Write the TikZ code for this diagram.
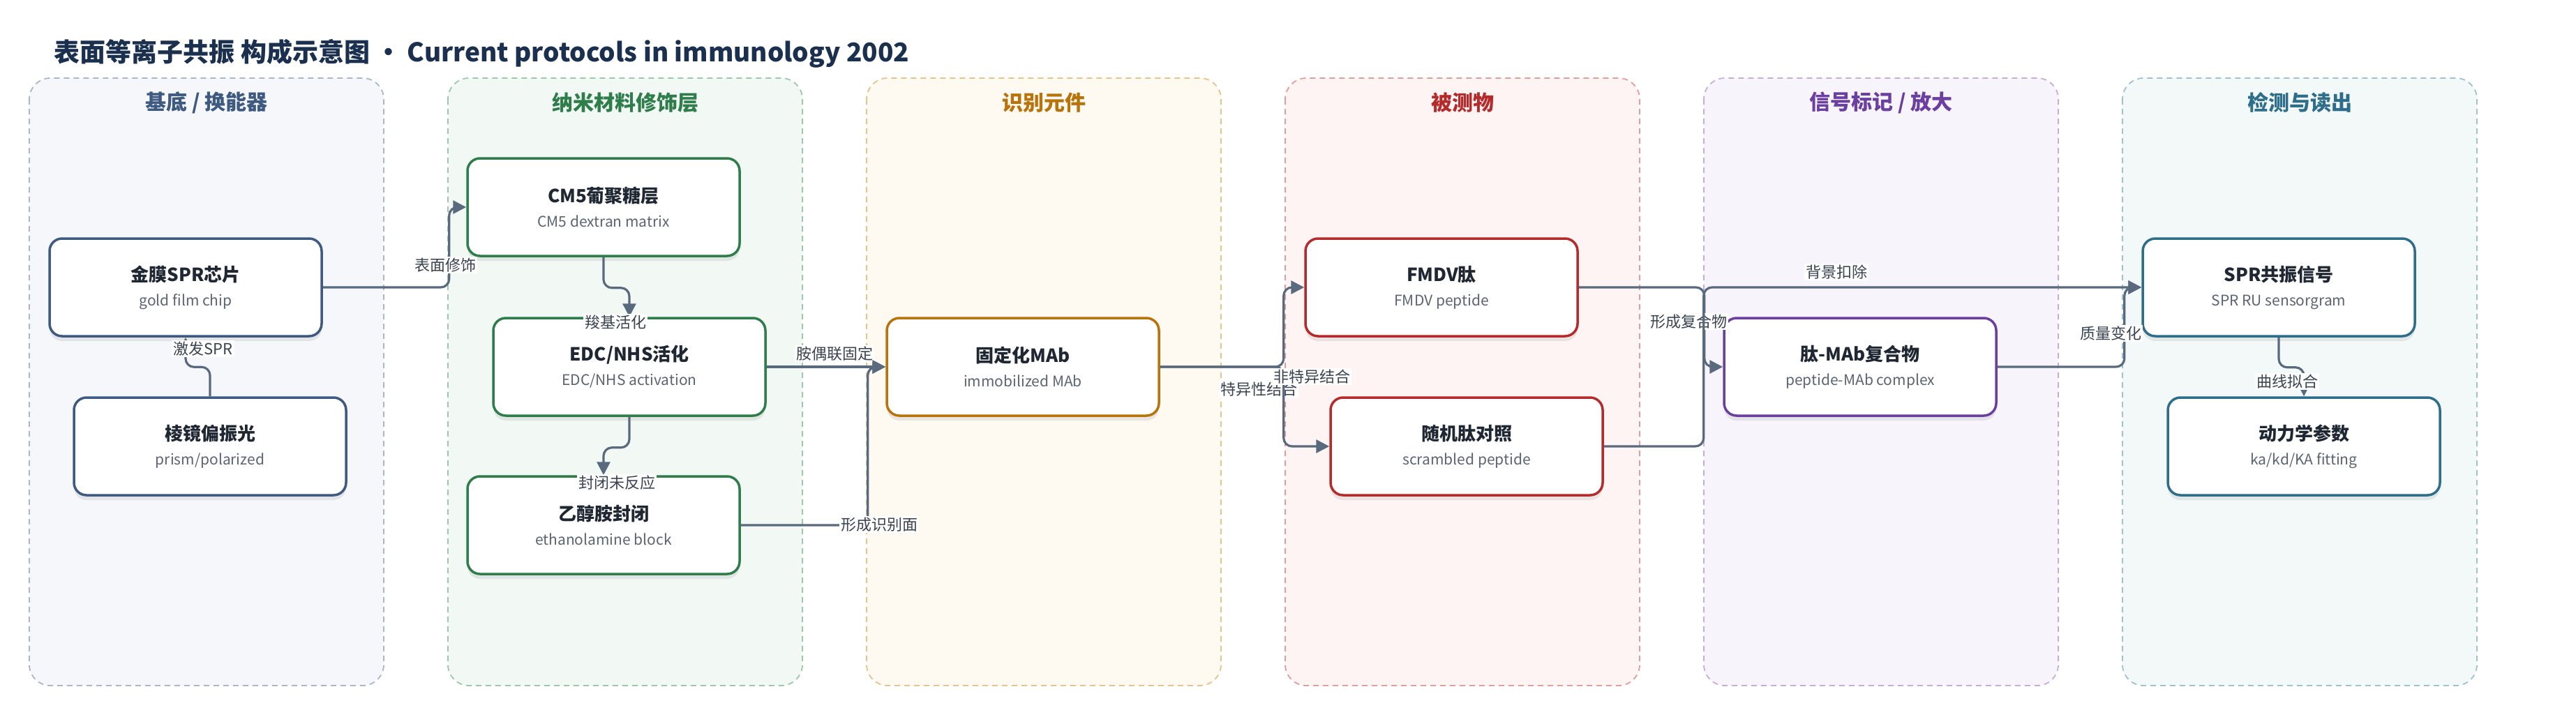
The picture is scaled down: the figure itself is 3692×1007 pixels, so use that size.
\documentclass[tikz,border=0pt]{standalone}
\usepackage{fontspec}
\setmainfont{Noto Sans CJK SC}
\usepackage{tikz}
\usetikzlibrary{arrows.meta,positioning,shadows}

\definecolor{titlec}{HTML}{1B2F4E}
\definecolor{inkc}{HTML}{1F2733}
\definecolor{subc}{HTML}{5B6472}
\definecolor{labc}{HTML}{3A4350}
\definecolor{linec}{HTML}{5A6A7E}
% lane colours: text / dashes / fill
\definecolor{baseC}{HTML}{3E5A80}\definecolor{baseD}{HTML}{A9B7CB}\definecolor{baseF}{HTML}{F5F7FB}
\definecolor{nanoC}{HTML}{2E7D4B}\definecolor{nanoD}{HTML}{9CC9A9}\definecolor{nanoF}{HTML}{F2F8F4}
\definecolor{recC}{HTML}{B8730A}\definecolor{recD}{HTML}{E6C48C}\definecolor{recF}{HTML}{FEF9F1}
\definecolor{anaC}{HTML}{B52A2A}\definecolor{anaD}{HTML}{E49C9C}\definecolor{anaF}{HTML}{FEF4F4}
\definecolor{sigC}{HTML}{6A3FA0}\definecolor{sigD}{HTML}{C9ACDE}\definecolor{sigF}{HTML}{F8F4FC}
\definecolor{detC}{HTML}{2E6E8A}\definecolor{detD}{HTML}{A0C2CD}\definecolor{detF}{HTML}{F3F8F9}

\newcommand{\engtxt}{\mdseries\fontsize{21}{35}\selectfont\color{subc}}

\begin{document}
\begin{tikzpicture}[
		x=1pt, y=-1pt,
		lane/.style 2 args={draw=#1, fill=#2, line width=1.8pt, dash pattern=on 8pt off 6pt, rounded corners=30pt},
		hdr/.style={text=#1, font=\fontsize{30}{30}\selectfont\bfseries},
		box/.style={draw=#1, fill=white, line width=3.5pt, rounded corners=18pt,
			minimum width=390pt, minimum height=140pt, align=center, text=inkc,
			font=\fontsize{26}{35}\selectfont\bfseries,
			drop shadow={shadow xshift=0pt, shadow yshift=-7pt, fill=black!60, opacity=0.13}},
		lbl/.style={fill=white, inner sep=2pt, text=labc, font=\fontsize{22}{22}\selectfont},
		flow/.style={draw=linec, line width=3.2pt, rounded corners=12pt, -{Triangle[length=19pt,width=19pt]}}
		]
	\useasboundingbox (0,0) rectangle (3692,1007);

	\node[anchor=west, text=titlec, font=\fontsize{37}{37}\selectfont\bfseries] (title) at (74,77)
		{表面等离子共振 构成示意图 · Current protocols in immunology 2002};

	% lanes
	\draw[lane={baseD}{baseF}] (42,112) rectangle (550,983);
	\draw[lane={nanoD}{nanoF}] (642,112) rectangle (1150,983);
	\draw[lane={recD}{recF}] (1242,112) rectangle (1750,983);
	\draw[lane={anaD}{anaF}] (1842,112) rectangle (2350,983);
	\draw[lane={sigD}{sigF}] (2442,112) rectangle (2950,983);
	\draw[lane={detD}{detF}] (3042,112) rectangle (3550,983);

	\node[hdr=baseC] (hbase) at (296,147) {基底 / 换能器};
	\node[hdr=nanoC] (hnano) at (896,147) {纳米材料修饰层};
	\node[hdr=recC] (hrec) at (1496,147) {识别元件};
	\node[hdr=anaC] (hana) at (2096,147) {被测物};
	\node[hdr=sigC] (hsig) at (2696,147) {信号标记 / 放大};
	\node[hdr=detC] (hdet) at (3296,147) {检测与读出};

	% nodes
	\node[box=baseC] (chip) at (266,412) {金膜SPR芯片\\{\engtxt gold film chip}};
	\node[box=baseC] (prism) at (301,640) {棱镜偏振光\\{\engtxt prism/polarized}};
	\node[box=nanoC] (cm5) at (865,297) {CM5葡聚糖层\\{\engtxt CM5 dextran matrix}};
	\node[box=nanoC] (edc) at (902,526) {EDC/NHS活化\\{\engtxt EDC/NHS activation}};
	\node[box=nanoC] (etha) at (865,753) {乙醇胺封闭\\{\engtxt ethanolamine block}};
	\node[box=recC] (mab) at (1466,526) {固定化MAb\\{\engtxt immobilized MAb}};
	\node[box=anaC] (fmdv) at (2066,412) {FMDV肽\\{\engtxt FMDV peptide}};
	\node[box=anaC] (scr) at (2102,640) {随机肽对照\\{\engtxt scrambled peptide}};
	\node[box=sigC] (cpx) at (2666,526) {肽-MAb复合物\\{\engtxt peptide-MAb complex}};
	\node[box=detC] (spr) at (3266,412) {SPR共振信号\\{\engtxt SPR RU sensorgram}};
	\node[box=detC] (kin) at (3302,640) {动力学参数\\{\engtxt ka/kd/KA fitting}};

	% connectors
	\draw[flow] (chip.east) -- ++(181,0) |- (cm5.west);
	\node[lbl] (l1) at (638,380) {表面修饰};
	\draw[flow] (prism.north) -- ++(0,-42) -| (chip.south);
	\node[lbl] (l2) at (291,500) {激发SPR};
	\draw[flow] (cm5.south) -- ++(0,44) -| (edc.north);
	\node[lbl] (l3) at (882,462) {羧基活化};
	\draw[flow] (edc.south) -- ++(0,44) -| (etha.north);
	\node[lbl] (l4) at (884,692) {封闭未反应};
	\draw[flow] (edc.east) -- (mab.west);
	\node[lbl] (l5) at (1196,507) {胺偶联固定};
	\draw[flow] (etha.east) -- ++(182,0) |- (mab.west);
	\node[lbl] (l6) at (1260,752) {形成识别面};
	\draw[flow] (mab.east) -- ++(177,0) |- (fmdv.west);
	\node[lbl] (l7) at (1804,558) {特异性结合};
	\draw[flow] (mab.east) -- ++(177,0) |- (scr.west);
	\node[lbl] (l8) at (1880,540) {非特异结合};
	\draw[flow] (fmdv.east) -- ++(180,0) |- (cpx.west);
	\node[lbl] (l9) at (2420,461) {形成复合物};
	\draw[flow] (scr.east) -- ++(143,0) |- (spr.west);
	\node[lbl] (l10) at (2632,390) {背景扣除};
	\draw[flow] (cpx.east) -- ++(182,0) |- (spr.west);
	\node[lbl] (l11) at (3025,478) {质量变化};
	\draw[flow] (spr.south) -- ++(0,43) -| (kin.north);
	\node[lbl] (l12) at (3278,547) {曲线拟合};

\end{tikzpicture}
\end{document}
